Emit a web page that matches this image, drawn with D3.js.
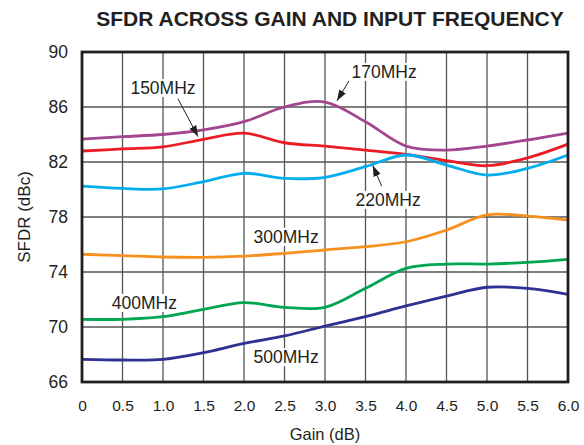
<!DOCTYPE html>
<html>
<head>
<meta charset="utf-8">
<script src="https://cdn.jsdelivr.net/npm/d3@7"></script>
<style>
  body { margin: 0; background: #fff; }
  svg { font-family: "Liberation Sans", Arial, sans-serif; }
  .grid line { stroke: #555; stroke-width: 1.3; }
  .curve { fill: none; stroke-width: 2.8; }
</style>
</head>
<body>
<div id="chart"></div>
<script>
// Gain steps (dB)
let gain = [0, 0.5, 1.0, 1.5, 2.0, 2.5, 3.0, 3.5, 4.0, 4.5, 5.0, 5.5, 6.0];

// SFDR (dBc) per input frequency
let sfdr150 = [82.8, 82.95, 83.1, 83.65, 84.1, 83.4, 83.15, 82.87, 82.56, 82.1, 81.73, 82.3, 83.3];
let sfdr170 = [83.67, 83.84, 84.0, 84.33, 84.93, 86.0, 86.36, 84.93, 83.16, 82.87, 83.16, 83.6, 84.1];
let sfdr220 = [80.25, 80.08, 80.04, 80.57, 81.18, 80.81, 80.89, 81.66, 82.51, 81.78, 81.05, 81.54, 82.51];
let sfdr300 = [75.29, 75.19, 75.09, 75.07, 75.16, 75.36, 75.6, 75.84, 76.2, 77.05, 78.15, 78.07, 77.78];
let sfdr400 = [70.56, 70.56, 70.75, 71.29, 71.77, 71.43, 71.43, 72.81, 74.27, 74.58, 74.58, 74.7, 74.92];
let sfdr500 = [67.65, 67.6, 67.65, 68.13, 68.81, 69.35, 70.07, 70.75, 71.53, 72.25, 72.89, 72.81, 72.38];

let series = [
    {name: "170MHz", values: sfdr170, color: "#a3468e"},
    {name: "150MHz", values: sfdr150, color: "#ec1c24"},
    {name: "220MHz", values: sfdr220, color: "#00aeef"},
    {name: "300MHz", values: sfdr300, color: "#f7901e"},
    {name: "400MHz", values: sfdr400, color: "#00a651"},
    {name: "500MHz", values: sfdr500, color: "#2e3192"}
];

let xTicks = [0, 0.5, 1.0, 1.5, 2.0, 2.5, 3.0, 3.5, 4.0, 4.5, 5.0, 5.5, 6.0];
let yTicks = [66, 70, 74, 78, 82, 86, 90];

// Curve labels: text centre in data units, optional arrow from/to in data units
let labels = [
    {text: "150MHz", gx: 1.0, gy: 87.38, arrow: [[1.185, 86.6], [1.432, 83.85]]},
    {text: "170MHz", gx: 3.73, gy: 88.55, arrow: [[3.296, 87.9], [3.148, 86.45]]},
    {text: "220MHz", gx: 3.78, gy: 79.24, arrow: [[3.70, 80.25], [3.59, 81.75]]},
    {text: "300MHz", gx: 2.52, gy: 76.55},
    {text: "400MHz", gx: 0.77, gy: 71.75},
    {text: "500MHz", gx: 2.52, gy: 67.8}
];

let margin = {top: 52, right: 16, bottom: 63, left: 82};
let width = 584 - margin.left - margin.right,
    height = 445 - margin.top - margin.bottom;

let svg = d3.select("#chart").append("svg")
    .attr("width", 584)
    .attr("height", 445);

let g = svg.append("g")
    .attr("transform", `translate(${margin.left},${margin.top})`);

let xScale = d3.scaleLinear().domain([0, 6]).range([0, width]);
let yScale = d3.scaleLinear().domain([66, 90]).range([height, 0]);

// grid
let grid = g.append("g").attr("class", "grid");
grid.selectAll(".vx")
    .data(xTicks.slice(1, -1))
    .enter().append("line")
    .attr("x1", d => xScale(d)).attr("x2", d => xScale(d))
    .attr("y1", 0).attr("y2", height);
grid.selectAll(".hy")
    .data(yTicks.slice(1, -1))
    .enter().append("line")
    .attr("x1", 0).attr("x2", width)
    .attr("y1", d => yScale(d)).attr("y2", d => yScale(d));

// label backgrounds hide the grid behind the text
let labelG = g.append("g");
labels.forEach(l => {
    let t = labelG.append("text")
        .attr("x", xScale(l.gx))
        .attr("y", yScale(l.gy))
        .attr("text-anchor", "middle")
        .attr("dominant-baseline", "central")
        .style("font-size", "17.5px")
        .style("fill", "#231f20")
        .text(l.text);
    let bb = t.node().getBBox();
    labelG.insert("rect", "text")
        .attr("x", bb.x - 2).attr("y", bb.y + 1)
        .attr("width", bb.width + 4).attr("height", bb.height - 2)
        .attr("fill", "#fff");
});

// curves
let line = d3.line()
    .x((d, i) => xScale(gain[i]))
    .y(d => yScale(d))
    .curve(d3.curveCatmullRom.alpha(0.5));

g.selectAll(".curve")
    .data(series)
    .enter().append("path")
    .attr("class", "curve")
    .attr("stroke", d => d.color)
    .attr("d", d => line(d.values));

// arrows
svg.append("defs").append("marker")
    .attr("id", "head")
    .attr("viewBox", "0 0 10 10")
    .attr("refX", 10).attr("refY", 5)
    .attr("markerWidth", 11).attr("markerHeight", 11)
    .attr("markerUnits", "userSpaceOnUse")
    .attr("orient", "auto")
    .append("path")
    .attr("d", "M0,1.5 L10,5 L0,8.5 Z")
    .attr("fill", "#231f20");

labels.filter(l => l.arrow).forEach(l => {
    g.append("line")
        .attr("x1", xScale(l.arrow[0][0])).attr("y1", yScale(l.arrow[0][1]))
        .attr("x2", xScale(l.arrow[1][0])).attr("y2", yScale(l.arrow[1][1]))
        .attr("stroke", "#231f20")
        .attr("stroke-width", 1)
        .attr("marker-end", "url(#head)");
});

// frame
g.append("rect")
    .attr("width", width).attr("height", height)
    .attr("fill", "none")
    .attr("stroke", "#231f20")
    .attr("stroke-width", 2.8);

// axes
let xAxis = d3.axisBottom(xScale)
    .tickValues(xTicks)
    .tickSize(0).tickPadding(18)
    .tickFormat(d => d === 0 ? "0" : d3.format(".1f")(d));
g.append("g")
    .attr("transform", `translate(0,${height})`)
    .call(xAxis)
    .call(a => a.select(".domain").remove())
    .selectAll("text")
    .style("font-size", "15.5px")
    .style("font-family", "Liberation Sans, Arial, sans-serif")
    .attr("fill", "#231f20");

let yAxis = d3.axisLeft(yScale)
    .tickValues(yTicks)
    .tickSize(0).tickPadding(14);
g.append("g")
    .call(yAxis)
    .call(a => a.select(".domain").remove())
    .selectAll("text")
    .style("font-size", "17.5px")
    .style("font-family", "Liberation Sans, Arial, sans-serif")
    .attr("fill", "#231f20");

// titles
svg.append("text")
    .attr("x", 330).attr("y", 26)
    .attr("text-anchor", "middle")
    .style("font-size", "21px")
    .style("font-weight", "bold")
    .attr("fill", "#231f20")
    .text("SFDR ACROSS GAIN AND INPUT FREQUENCY");

svg.append("text")
    .attr("x", margin.left + width / 2).attr("y", 440)
    .attr("text-anchor", "middle")
    .style("font-size", "16.5px")
    .attr("fill", "#231f20")
    .text("Gain (dB)");

svg.append("text")
    .attr("transform", `translate(30,${margin.top + height / 2}) rotate(-90)`)
    .attr("text-anchor", "middle")
    .style("font-size", "17px")
    .attr("fill", "#231f20")
    .text("SFDR (dBc)");
</script>
</body>
</html>
